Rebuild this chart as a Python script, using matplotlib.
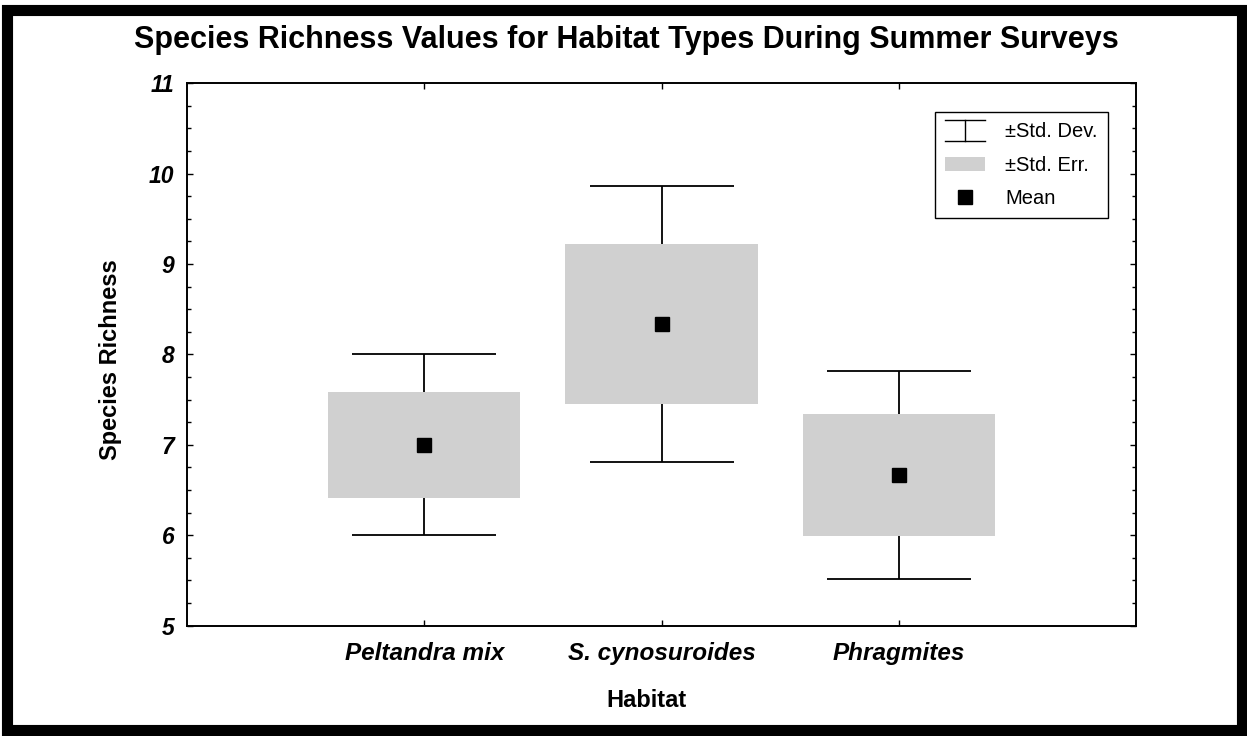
import numpy as np
import matplotlib
matplotlib.use("Agg")
import matplotlib.pyplot as plt
from matplotlib.lines import Line2D
from matplotlib.patches import Patch, Rectangle
from matplotlib.legend_handler import HandlerBase
from matplotlib.ticker import MultipleLocator

plt.rcParams['font.family'] = ['Liberation Sans', 'DejaVu Sans']

# Datos
habitats = ['Peltandra mix', 'S. cynosuroides', 'Phragmites']
means = [7.00, 8.34, 6.67]
std_err = [0.585, 0.885, 0.675]
std_dev = [1.00, 1.525, 1.15]

gray = '#d0d0d0'


# simbolo de la leyenda para la desviacion estandar (forma de I)
class HandlerIBeam(HandlerBase):
    def create_artists(self, legend, orig_handle, xdescent, ydescent,
                       width, height, fontsize, trans):
        x0, x1 = -xdescent, -xdescent + width
        xm = (x0 + x1) / 2
        y0, y1 = -ydescent - 0.25 * height, -ydescent + 1.2 * height
        arts = [Line2D([x0, x1], [y1, y1], color='black', lw=1.0),
                Line2D([x0, x1], [y0, y0], color='black', lw=1.0),
                Line2D([xm, xm], [y0, y1], color='black', lw=1.0)]
        for a in arts:
            a.set_transform(trans)
        return arts


fig = plt.figure(figsize=(12.47, 7.36), dpi=100)
ax = fig.add_axes([0.150, 0.150, 0.761, 0.737])

x = np.arange(len(habitats))
m = np.array(means)
se = np.array(std_err)

ax.errorbar(x, m, yerr=std_dev, fmt='none', ecolor='black', elinewidth=1.3,
            capsize=51.5, capthick=1.3, zorder=1)
ax.bar(x, 2 * se, bottom=m - se, width=0.81, color=gray, zorder=2)
ax.plot(x, m, 's', color='black', markersize=9.5, zorder=3)

ax.set_xlim(-1, 3)
ax.set_ylim(5, 11)
ax.set_xticks(x)
ax.set_xticklabels(habitats, fontsize=17.5, fontweight='bold', fontstyle='italic')
ax.yaxis.set_major_locator(MultipleLocator(1))
ax.yaxis.set_minor_locator(MultipleLocator(0.25))
for lab in ax.get_yticklabels():
    lab.set_fontsize(16.5)
    lab.set_fontweight('bold')
    lab.set_fontstyle('italic')

ax.tick_params(which='both', direction='in', top=True, right=True, width=1, color='black')
ax.tick_params(which='major', length=4)
ax.tick_params(which='minor', length=3)
ax.tick_params(axis='y', pad=9)
ax.tick_params(axis='x', pad=11.5)
for s in ax.spines.values():
    s.set_linewidth(1.4)

ax.set_ylabel('Species Richness', fontsize=17, fontweight='bold')
ax.yaxis.set_label_coords(-0.0685, 0.49)
ax.set_xlabel('Habitat', fontsize=17, fontweight='bold')
ax.xaxis.set_label_coords(0.4837, -0.117)

fig.text(0.502, 0.945, 'Species Richness Values for Habitat Types During Summer Surveys',
         ha='center', va='center', fontsize=22, fontweight='bold')

handles = [Line2D([], []),
           Patch(facecolor=gray, edgecolor='none'),
           Line2D([], [], marker='s', color='black', linestyle='none', markersize=9.5)]
labels = ['±Std. Dev.', '±Std. Err.', 'Mean']
leg = ax.legend(handles, labels, loc='upper right', bbox_to_anchor=(0.9705, 0.9465),
                borderaxespad=0, fancybox=False, edgecolor='black', framealpha=1,
                fontsize=14.5, handlelength=2.0, handletextpad=1.0, labelspacing=0.72,
                borderpad=0.5, handler_map={handles[0]: HandlerIBeam()})
leg.get_frame().set_linewidth(1.0)

# marco negro grueso alrededor de la figura
fig.patches.append(Rectangle((0.0056, 0.0082), 0.9904, 0.9782, transform=fig.transFigure,
                             fill=False, edgecolor='black', linewidth=8))

fig.savefig('out.png', dpi=100)
